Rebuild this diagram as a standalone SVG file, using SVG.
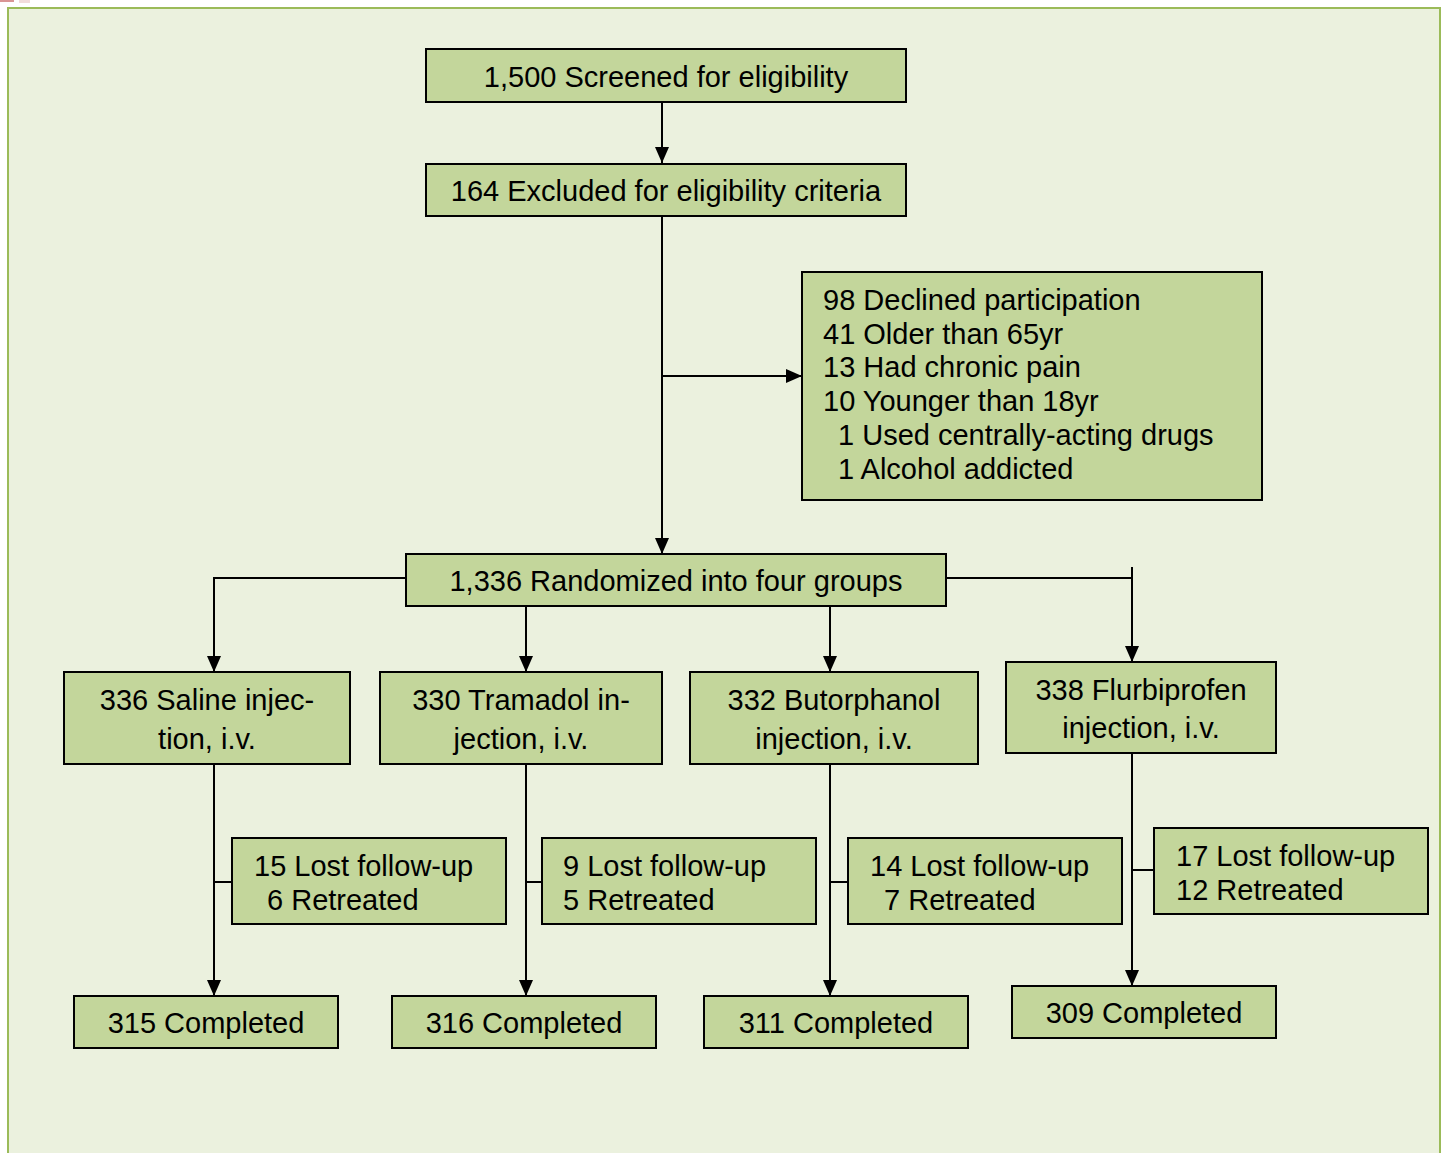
<svg xmlns="http://www.w3.org/2000/svg" width="1442" height="1153" viewBox="0 0 1442 1153">
<defs>
<style>
.box{fill:#C3D69B;stroke:#000;stroke-width:2}
.t{font-family:"Liberation Sans",Arial,sans-serif;font-size:29px;fill:#000}
.c{text-anchor:middle}
.ln{fill:none;stroke:#000;stroke-width:2}
</style>
<marker id="ah" markerUnits="userSpaceOnUse" markerWidth="16" markerHeight="14" refX="16" refY="7" orient="auto">
<path d="M0,0 L16,7 L0,14 z" fill="#000"/>
</marker>
</defs>
<rect x="0" y="0" width="1442" height="1153" fill="#fff"/>
<rect x="0" y="0" width="14" height="2" fill="#D99594"/>
<rect x="19" y="0" width="11" height="3" fill="#F2DCDB"/>
<rect x="8" y="8" width="1432" height="1165" fill="#EBF1DE" stroke="#9BBB59" stroke-width="2"/>

<g id="connectors">
<line class="ln" x1="662" y1="102" x2="662" y2="163" marker-end="url(#ah)"/>
<line class="ln" x1="662" y1="216" x2="662" y2="554" marker-end="url(#ah)"/>
<line class="ln" x1="662" y1="376" x2="802" y2="376" marker-end="url(#ah)"/>
<polyline class="ln" points="406,578 214,578 214,672" marker-end="url(#ah)"/>
<line class="ln" x1="526" y1="606" x2="526" y2="672" marker-end="url(#ah)"/>
<line class="ln" x1="830" y1="606" x2="830" y2="672" marker-end="url(#ah)"/>
<line class="ln" x1="946" y1="578" x2="1132" y2="578"/>
<line class="ln" x1="1132" y1="567" x2="1132" y2="662" marker-end="url(#ah)"/>
<line class="ln" x1="214" y1="764" x2="214" y2="996" marker-end="url(#ah)"/>
<line class="ln" x1="214" y1="882" x2="232" y2="882"/>
<line class="ln" x1="526" y1="764" x2="526" y2="996" marker-end="url(#ah)"/>
<line class="ln" x1="526" y1="882" x2="542" y2="882"/>
<line class="ln" x1="830" y1="764" x2="830" y2="996" marker-end="url(#ah)"/>
<line class="ln" x1="830" y1="882" x2="848" y2="882"/>
<line class="ln" x1="1132" y1="753" x2="1132" y2="986" marker-end="url(#ah)"/>
<line class="ln" x1="1132" y1="870" x2="1154" y2="870"/>
</g>

<g id="screened">
<rect class="box" x="426" y="49" width="480" height="53"/>
<text class="t c" x="666" y="87">1,500 Screened for eligibility</text>
</g>
<g id="excluded">
<rect class="box" x="426" y="164" width="480" height="52"/>
<text class="t c" x="666" y="201">164 Excluded for eligibility criteria</text>
</g>
<g id="reasons">
<rect class="box" x="802" y="272" width="460" height="228"/>
<text class="t" x="823" y="310">98 Declined participation</text>
<text class="t" x="823" y="344">41 Older than 65yr</text>
<text class="t" x="823" y="377">13 Had chronic pain</text>
<text class="t" x="823" y="411">10 Younger than 18yr</text>
<text class="t" x="838" y="445">1 Used centrally-acting drugs</text>
<text class="t" x="838" y="479">1 Alcohol addicted</text>
</g>
<g id="randomized">
<rect class="box" x="406" y="554" width="540" height="52"/>
<text class="t c" x="676" y="591">1,336 Randomized into four groups</text>
</g>

<g id="saline">
<rect class="box" x="64" y="672" width="286" height="92"/>
<text class="t c" x="207" y="710">336 Saline injec-</text>
<text class="t c" x="207" y="749">tion, i.v.</text>
</g>
<g id="tramadol">
<rect class="box" x="380" y="672" width="282" height="92"/>
<text class="t c" x="521" y="710">330 Tramadol in-</text>
<text class="t c" x="521" y="749">jection, i.v.</text>
</g>
<g id="butorphanol">
<rect class="box" x="690" y="672" width="288" height="92"/>
<text class="t c" x="834" y="710">332 Butorphanol</text>
<text class="t c" x="834" y="749">injection, i.v.</text>
</g>
<g id="flurbiprofen">
<rect class="box" x="1006" y="662" width="270" height="91"/>
<text class="t c" x="1141" y="700">338 Flurbiprofen</text>
<text class="t c" x="1141" y="738">injection, i.v.</text>
</g>

<g id="lost-saline">
<rect class="box" x="232" y="838" width="274" height="86"/>
<text class="t" x="254" y="876">15 Lost follow-up</text>
<text class="t" x="267" y="910">6 Retreated</text>
</g>
<g id="lost-tramadol">
<rect class="box" x="542" y="838" width="274" height="86"/>
<text class="t" x="563" y="876">9 Lost follow-up</text>
<text class="t" x="563" y="910">5 Retreated</text>
</g>
<g id="lost-butorphanol">
<rect class="box" x="848" y="838" width="274" height="86"/>
<text class="t" x="870" y="876">14 Lost follow-up</text>
<text class="t" x="884" y="910">7 Retreated</text>
</g>
<g id="lost-flurbiprofen">
<rect class="box" x="1154" y="828" width="274" height="86"/>
<text class="t" x="1176" y="866">17 Lost follow-up</text>
<text class="t" x="1176" y="900">12 Retreated</text>
</g>

<g id="completed-saline">
<rect class="box" x="74" y="996" width="264" height="52"/>
<text class="t c" x="206" y="1033">315 Completed</text>
</g>
<g id="completed-tramadol">
<rect class="box" x="392" y="996" width="264" height="52"/>
<text class="t c" x="524" y="1033">316 Completed</text>
</g>
<g id="completed-butorphanol">
<rect class="box" x="704" y="996" width="264" height="52"/>
<text class="t c" x="836" y="1033">311 Completed</text>
</g>
<g id="completed-flurbiprofen">
<rect class="box" x="1012" y="986" width="264" height="52"/>
<text class="t c" x="1144" y="1023">309 Completed</text>
</g>
</svg>
